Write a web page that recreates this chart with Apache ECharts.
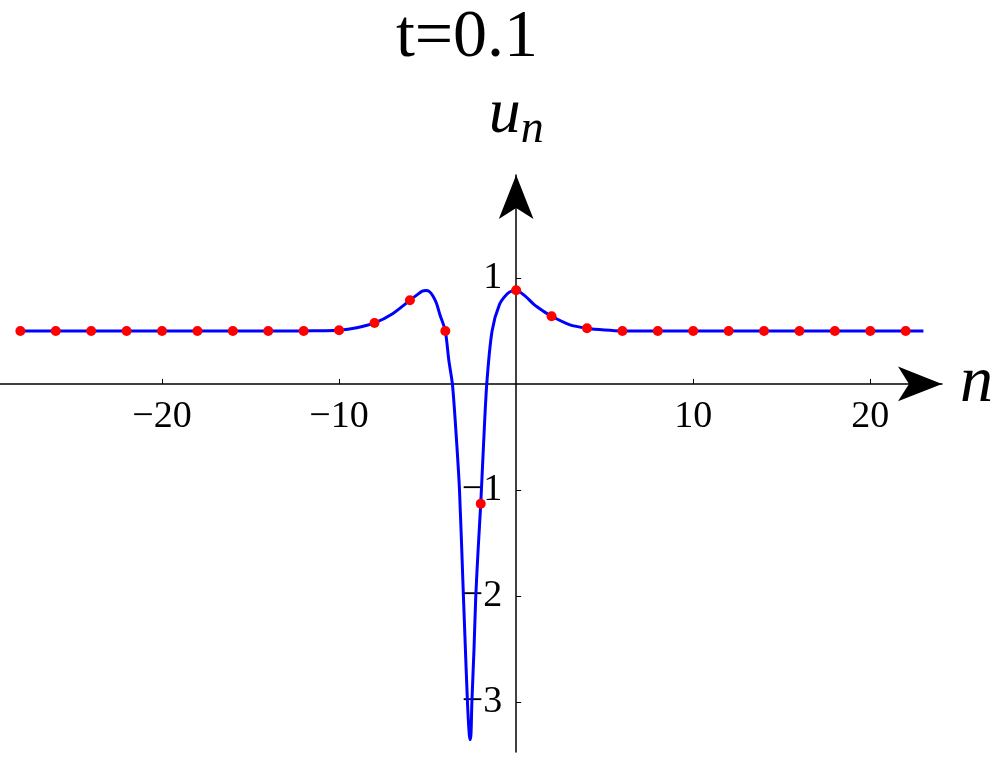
<!DOCTYPE html>
<html>
<head>
<meta charset="utf-8">
<script src="https://cdn.jsdelivr.net/npm/echarts@6/dist/echarts.min.js"></script>
<style>
  html, body { margin: 0; padding: 0; background: #fff; }
  #chart { width: 1000px; height: 757px; }
</style>
</head>
<body>
<div id="chart"></div>
<script>
// lattice sites (red dots)
const dotN = [-28, -26, -24, -22, -20, -18, -16, -14, -12, -10, -8, -6, -4, -2, 0, 2, 4, 6, 8, 10, 12, 14, 16, 18, 20, 22]
const dotU = [0.5, 0.5, 0.5, 0.5, 0.5, 0.5, 0.5, 0.5, 0.5, 0.506, 0.575, 0.789, 0.5, -1.13, 0.883, 0.638, 0.525, 0.5, 0.5, 0.5, 0.5, 0.5, 0.5, 0.5, 0.5, 0.5]

// continuous profile (blue line)
const curveN = [-28, -24, -20, -16, -12, -11, -10, -9, -8, -7, -6, -5.6, -5.3, -5.1, -4.9, -4.7, -4.5, -4.3, -4.0, -3.8, -3.6, -3.4, -3.2, -3.0, -2.9, -2.75, -2.65, -2.6, -2.55, -2.5, -2.38, -2.28, -2.15, -2.0, -1.85, -1.66, -1.36, -0.94, -0.5, -0.2, 0, 0.5, 1, 1.5, 2, 3, 4, 5, 6, 8, 12, 16, 20, 23]
const curveU = [0.5, 0.5, 0.5, 0.5, 0.5, 0.502, 0.506, 0.53, 0.575, 0.66, 0.789, 0.84, 0.875, 0.88, 0.87, 0.83, 0.76, 0.65, 0.5, 0.22, 0.0, -0.45, -1.0, -1.9, -2.35, -3.0, -3.3, -3.355, -3.3, -3.0, -2.5, -2.0, -1.57, -1.13, -0.6, 0.0, 0.5, 0.75, 0.85, 0.88, 0.883, 0.83, 0.75, 0.69, 0.638, 0.56, 0.525, 0.508, 0.5, 0.5, 0.5, 0.5, 0.5, 0.5]

const xTicks = [-20, -10, 10, 20]
const yTicks = [-3, -2, -1, 1]

const serif = 'Liberation Serif'
const fmt = v => (v < 0 ? '\u2212' + Math.abs(v) : String(v))

// plot area in pixels; the axes cross at (0, 0)
const gLeft = 0, gRight = 58, gTop = 175, gBottom = 5
const xMin = -29.15, xMax = 24.05, yMin = -3.47, yMax = 1.97
const plotW = 1000 - gLeft - gRight, plotH = 757 - gTop - gBottom
const zeroX = gLeft + (0 - xMin) / (xMax - xMin) * plotW
const zeroY = gTop + (yMax - 0) / (yMax - yMin) * plotH

const chart = echarts.init(document.getElementById('chart'))
chart.setOption({
  animation: false,
  backgroundColor: '#fff',
  grid: { left: gLeft, right: gRight, top: gTop, bottom: gBottom, outerBoundsMode: 'none', containLabel: false },
  graphic: [
    {
      type: 'text', x: 467, y: 38,
      style: { text: 't=0.1', fontFamily: serif, fontSize: 68, fill: '#000', align: 'center', verticalAlign: 'middle' }
    }
  ],
  xAxis: {
    type: 'value', min: xMin, max: xMax, position: 'bottom', offset: -(757 - gBottom - zeroY),
    name: 'n', nameLocation: 'end', nameGap: 18,
    nameTextStyle: { fontFamily: serif, fontStyle: 'italic', fontSize: 66, color: '#000', verticalAlign: 'middle' },
    axisLine: { onZero: false, lineStyle: { color: '#000', width: 1.5 }, symbol: ['none', 'arrow'], symbolSize: [26, 44] },
    axisTick: { show: true, inside: true, length: 5, customValues: xTicks, lineStyle: { color: '#000' } },
    axisLabel: { customValues: xTicks, formatter: fmt, fontFamily: serif, fontSize: 38, color: '#000', margin: 14 },
    splitLine: { show: false }
  },
  yAxis: {
    type: 'value', min: yMin, max: yMax, position: 'left', offset: -(zeroX - gLeft),
    name: '{u|u}{s|n}', nameLocation: 'end', nameGap: 22,
    nameTextStyle: {
      rich: {
        u: { fontFamily: serif, fontStyle: 'italic', fontSize: 64, color: '#000' },
        s: { fontFamily: serif, fontStyle: 'italic', fontSize: 46, color: '#000', padding: [30, 0, 0, 0] }
      }
    },
    axisLine: { onZero: false, lineStyle: { color: '#000', width: 1.5 }, symbol: ['none', 'arrow'], symbolSize: [26, 44] },
    axisTick: { show: true, inside: true, length: 5, customValues: yTicks, lineStyle: { color: '#000' } },
    axisLabel: { customValues: yTicks, formatter: fmt, fontFamily: serif, fontSize: 38, color: '#000', margin: 14 },
    splitLine: { show: false }
  },
  series: [
    {
      type: 'line', data: curveN.map((n, i) => [n, curveU[i]]),
      smooth: 0.25, showSymbol: false, z: 2,
      lineStyle: { color: '#0000ff', width: 3 }
    },
    {
      type: 'scatter', data: dotN.map((n, i) => [n, dotU[i]]),
      symbolSize: 10, z: 3,
      itemStyle: { color: '#ff0000', opacity: 1 }
    }
  ]
})
</script>
</body>
</html>
